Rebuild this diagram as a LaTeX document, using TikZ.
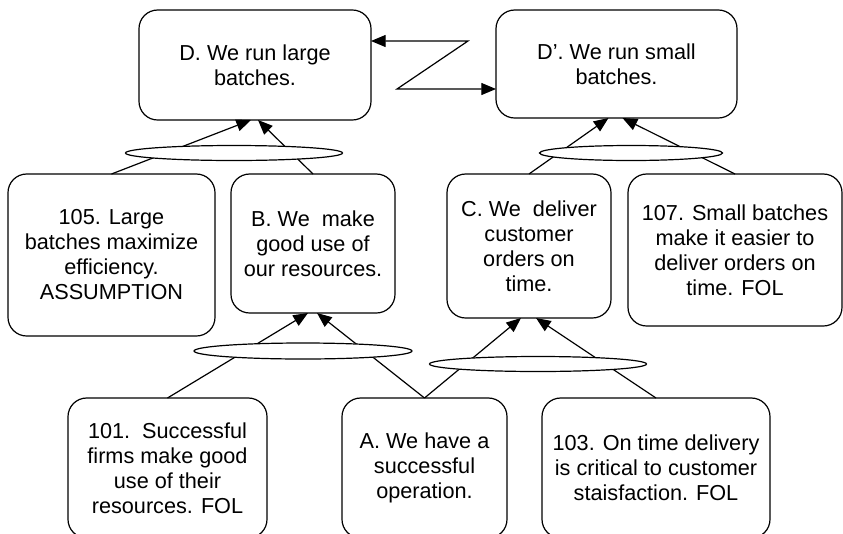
\documentclass[tikz,border=0pt]{standalone}
\usepackage{fontspec}
\setmainfont{Liberation Sans}
\usetikzlibrary{shapes.geometric,arrows.meta,calc}
\begin{document}
\begin{tikzpicture}[x=0.75pt,y=-0.75pt,
  box/.style={draw, line width=0.9pt, rounded corners=14pt, align=center,
    inner sep=0pt, outer sep=0pt, font=\fontsize{16.25}{18.75}\selectfont},
  link/.style={draw, line width=0.9pt},
  tip/.style={Triangle[length=11pt,width=9pt]},
  arr/.style={-{Triangle[length=11pt,width=9pt]}},
  oval/.style={draw, ellipse, fill=white, line width=0.9pt, inner sep=0pt, outer sep=0pt}]
\useasboundingbox (0,0) rectangle (843,533);
\clip (0,0) rectangle (843,533);

% boxes
\node[box, minimum width=174pt, minimum height=82.5pt] (D) at (255,65) {D. We run large\\batches.};
\node[box, minimum width=180.75pt, minimum height=81pt] (Dp) at (616.5,64) {D’. We run small\\batches.};
\node[box, minimum width=155.25pt, minimum height=121.5pt] (n105) at (111.5,255) {105. Large\\batches maximize\\efficiency.\\ASSUMPTION};
\node[box, minimum width=123pt, minimum height=104.25pt] (B) at (313,243.5) {B. We\ \ make\\good use of\\our resources.};
\node[box, minimum width=123pt, minimum height=108pt] (C) at (529,246) {C. We\ \ deliver\\customer\\orders on\\time.};
\node[box, minimum width=160.5pt, minimum height=114pt] (n107) at (735,250) {107. Small batches\\make it easier to\\deliver orders on\\time. FOL};
\node[box, minimum width=149.25pt, minimum height=105pt] (n101) at (167.5,468) {101.\ \ Successful\\firms make good\\use of their\\resources. FOL};
\node[box, minimum width=123.75pt, minimum height=105pt] (A) at (424.5,468) {A. We have a\\successful\\operation.};
\node[box, minimum width=171pt, minimum height=105pt] (n103) at (656,468) {103. On time delivery\\is critical to customer\\staisfaction. FOL};

% sufficiency arrows
\draw[link,arr] (n105.north) -- ($(D.south)+(-4,0)$);
\draw[link,arr] (B.north) -- ($(D.south)+(3,0)$);
\draw[link,arr] (C.north) -- ($(Dp.south)+(-8,0)$);
\draw[link,arr] (n107.north) -- ($(Dp.south)+(6,0)$);
\draw[link,arr] (n101.north) -- ($(B.south)+(-5,0)$);
\draw[link,arr] (A.north) -- ($(B.south)+(4,0)$);
\draw[link,arr] (A.north) -- ($(C.south)+(-8,0)$);
\draw[link,arr] (n103.north) -- ($(C.south)+(7,0)$);

% ellipses
\node[oval, minimum width=162.75pt, minimum height=11.25pt] (e1) at (234,153) {};
\node[oval, minimum width=137.25pt, minimum height=11.25pt] (e4) at (631,153) {};
\node[oval, minimum width=163.5pt, minimum height=12pt] (e2) at (303,351) {};
\node[oval, minimum width=162.75pt, minimum height=11.25pt] (e3) at (538,364) {};

% conflict arrow
\coordinate (z1) at (468,41);
\coordinate (z2) at (397,89);
\draw[link, {Triangle[length=11pt,width=9pt]}-{Triangle[length=11pt,width=9pt]}]
  ($(D.east)+(0,-24)$) -- (z1) -- (z2) -- ($(Dp.west)+(0,25)$);
\end{tikzpicture}
\end{document}
